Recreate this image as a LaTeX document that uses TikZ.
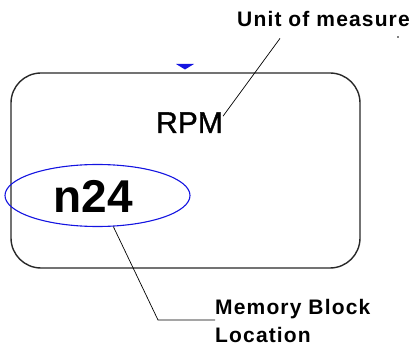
\documentclass[tikz,border=0pt]{standalone}
\usepackage{fontspec}
\setmainfont{Liberation Sans}
\usepackage{tikz}
\usetikzlibrary{shapes.geometric, calc}
\definecolor{markblue}{RGB}{20,20,225}
\definecolor{framegray}{RGB}{40,40,40}
\tikzset{
  lbl/.style={font=\bfseries\fontsize{21}{28}\selectfont\addfontfeatures{LetterSpace=5.5},
              inner sep=0pt, align=left},
  leader/.style={black, line width=0.7pt},
}

\begin{document}
\begin{tikzpicture}[x=1pt, y=-1pt]
  \useasboundingbox (0,0) rectangle (417,347);
  % Display block with rounded corners
  \node[draw=framegray, line width=1.4pt, rounded corners=30pt,
        minimum width=349pt, minimum height=195pt] (block) at (185.5,170.5) {};
  % Small marker on top edge
  \fill[markblue] (176,64) -- (194,64) -- (185,69.5) -- cycle;
  % Unit text and memory location inside the block
  \node[anchor=base, inner sep=0pt, font=\fontsize{30}{30}\selectfont\addfontfeatures{FakeBold=1.2}] (rpm) at (189.5,133) {RPM};
  \node[anchor=base, inner sep=0pt, font=\bfseries\fontsize{46}{46}\selectfont] (num) at (93,213) {n24};
  \node[draw=markblue, line width=1.1pt, ellipse, minimum width=185pt, minimum height=62pt] (mem) at (97.5,195.5) {};
  % Labels
  \node[lbl, anchor=base west] (unit) at (237,27) {Unit of measure};
  \node[lbl, anchor=north west] (memlbl) at (215,299) {Memory Block\\Location};
  \fill (398,37) circle (0.8pt);
  % Leader lines
  \coordinate (ustart) at ($(unit.south west)+(43,11)$);
  \draw[leader] (ustart) -- ([yshift=-4pt]rpm.north east);
  \coordinate (bend) at (158,320);
  \draw[leader] (mem.-63) -- (bend) -- (bend -| memlbl.west);
\end{tikzpicture}
\end{document}
